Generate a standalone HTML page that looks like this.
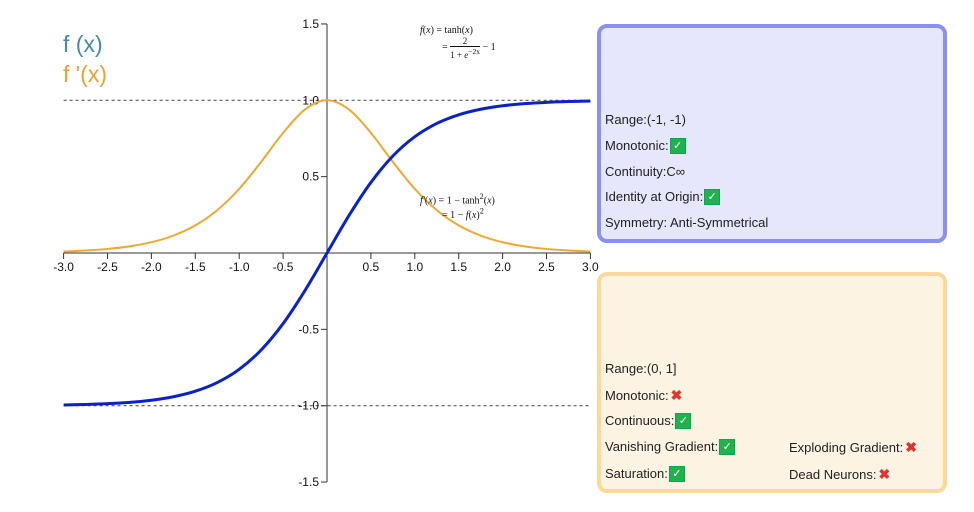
<!DOCTYPE html>
<html><head><meta charset="utf-8"><style>
body{margin:0;width:974px;height:512px;background:#fff;overflow:hidden;position:relative;font-family:"Liberation Sans",sans-serif}
.box{position:absolute;left:597px;width:350px;border-radius:10px;box-sizing:border-box}
.ln{position:absolute;font-size:13px;color:#222;line-height:16px;white-space:nowrap}
.ck{display:inline-block;width:14px;height:14px;background:#22b14c;border:1px solid #0a5;color:#fff;font-size:11px;line-height:14px;text-align:center;vertical-align:top;margin-left:1px}
.x{color:#d33;font-weight:bold;font-size:14px;margin-left:2px;line-height:16px}
.leg{position:absolute;left:63px;font-size:23px}
.mt{font-family:"Liberation Serif",serif;font-size:10px;position:absolute;color:#111;white-space:nowrap}
</style></head><body>
<div class="leg" style="top:31px;color:#4488aa">f (x)</div>
<div class="leg" style="top:61px;color:#f0a030">f '(x)</div>
<svg id="c" width="974" height="512" style="position:absolute;left:0;top:0"></svg>
<div class="mt" style="left:420px;top:25px"><i>f</i>(<i>x</i>) = tanh(<i>x</i>)<br><span style="margin-left:22px">= <span style="display:inline-block;text-align:center;vertical-align:middle;font-size:9px"><span style="border-bottom:1px solid #111;display:block">2</span>1 + <i>e</i><sup>−2x</sup></span> − 1</span></div>
<div class="mt" style="left:420px;top:192px"><i>f'</i>(<i>x</i>) = 1 − tanh<sup>2</sup>(<i>x</i>)<br><span style="margin-left:22px">= 1 − <i>f</i>(<i>x</i>)<sup>2</sup></span></div>
<div class="box" style="top:24px;height:219px;background:#e6e6fc;border:4px solid #8c90f0">
<div class="ln" style="left:4px;top:84px">Range:(-1, -1)</div>
<div class="ln" style="left:4px;top:110px">Monotonic:<span class="ck">✓</span></div>
<div class="ln" style="left:4px;top:136px">Continuity:C∞</div>
<div class="ln" style="left:4px;top:161px">Identity at Origin:<span class="ck">✓</span></div>
<div class="ln" style="left:4px;top:187px">Symmetry: Anti-Symmetrical</div>
</div>
<div class="box" style="top:272px;height:221px;background:#fdf3e3;border:4px solid #fcd99a">
<div class="ln" style="left:4px;top:85px">Range:(0, 1]</div>
<div class="ln" style="left:4px;top:111px">Monotonic:<span class="x">✖</span></div>
<div class="ln" style="left:4px;top:137px">Continuous:<span class="ck">✓</span></div>
<div class="ln" style="left:4px;top:163px">Vanishing Gradient:<span class="ck">✓</span></div>
<div class="ln" style="left:188px;top:163px">Exploding Gradient:<span class="x">✖</span></div>
<div class="ln" style="left:4px;top:190px">Saturation:<span class="ck">✓</span></div>
<div class="ln" style="left:188px;top:190px">Dead Neurons:<span class="x">✖</span></div>
</div>
<script>
const xVals=[-3,-2.75,-2.5,-2.25,-2,-1.75,-1.5,-1.25,-1,-0.75,-0.5,-0.25,0,0.25,0.5,0.75,1,1.25,1.5,1.75,2,2.25,2.5,2.75,3];
const fVals=[-0.9951,-0.9918,-0.9866,-0.978,-0.964,-0.9414,-0.9051,-0.8483,-0.7616,-0.6351,-0.4621,-0.2449,0,0.2449,0.4621,0.6351,0.7616,0.8483,0.9051,0.9414,0.964,0.978,0.9866,0.9918,0.9951];
const dVals=[0.0099,0.0164,0.0266,0.0436,0.0707,0.1138,0.1807,0.2805,0.42,0.5966,0.7864,0.94,1,0.94,0.7864,0.5966,0.42,0.2805,0.1807,0.1138,0.0707,0.0436,0.0266,0.0164,0.0099];
const xTicks=[-3,-2.5,-2,-1.5,-1,-0.5,0.5,1,1.5,2,2.5,3];
const yTicks=[-1.5,-1,-0.5,0.5,1,1.5];
const X=v=>327+v*87.8, Y=v=>253-v*152.7;
const s=document.getElementById('c'),NS='http://www.w3.org/2000/svg';
function el(t,a,txt){const e=document.createElementNS(NS,t);for(const k in a)e.setAttribute(k,a[k]);if(txt!=null)e.textContent=txt;s.appendChild(e);return e;}
[1,-1].forEach(v=>{const e=el('line',{x1:X(-3),x2:X(3),y1:Y(v),y2:Y(v),stroke:'#555','stroke-dasharray':'3,3','stroke-width':1.2});

});
let a=el('line',{x1:X(-3),x2:X(3),y1:Y(0),y2:Y(0),stroke:'#333'});


a=el('line',{x1:X(0),x2:X(0),y1:Y(1.5),y2:Y(-1.5),stroke:'#333'});


xTicks.forEach(v=>{el('line',{x1:X(v),x2:X(v),y1:Y(0),y2:Y(0)+6,stroke:'#333'});
const t=el('text',{x:X(v),y:Y(0)+18,'text-anchor':'middle','font-size':12,fill:'#111'},v.toFixed(1));

});
yTicks.forEach(v=>{el('line',{x1:X(0)-6,x2:X(0),y1:Y(v),y2:Y(v),stroke:'#333'});
const t=el('text',{x:X(0)-8,y:Y(v)+4,'text-anchor':'end','font-size':12,fill:'#111'},v.toFixed(1));

});
function path(ys){const p=xVals.map((x,i)=>[X(x),Y(ys[i])]);let d='M'+p[0];
for(let i=0;i<p.length-1;i++){const p0=p[i-1]||p[i],p1=p[i],p2=p[i+1],p3=p[i+2]||p2;
d+=` C${p1[0]+(p2[0]-p0[0])/6},${p1[1]+(p2[1]-p0[1])/6} ${p2[0]-(p3[0]-p1[0])/6},${p2[1]-(p3[1]-p1[1])/6} ${p2[0]},${p2[1]}`;}return d;}
let l=el('path',{d:path(dVals),fill:'none',stroke:'#f0a830','stroke-width':2});


l=el('path',{d:path(fVals),fill:'none',stroke:'#0a22cc','stroke-width':3});


</script>
</body></html>
